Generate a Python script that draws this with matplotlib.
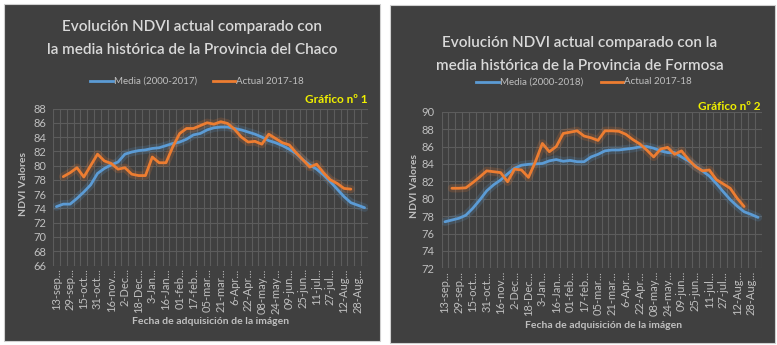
import numpy as np
import matplotlib
matplotlib.use("Agg")
import matplotlib.pyplot as plt
from matplotlib.patches import Rectangle

plt.rcParams['font.family'] = ['Lato', 'DejaVu Sans']

# ---------------- data ----------------
tick_labels = ["13-sep...", "29-sep...", "15-oct...", "31-oct...", "16-nov...", "2-Dec...",
               "18-Dec...", "3-Jan...", "16-Jan...", "01-feb...", "17-feb...", "05-mar...",
               "21-mar...", "6-Apr...", "22-Apr...", "08-may...", "24-may...", "09-jun...",
               "25-jun...", "11-jul...", "27-jul...", "12-Aug...", "28-Aug..."]
n_points = 46

chaco_media = [74.25, 74.6, 74.6, 75.4, 76.3, 77.3, 78.9, 79.6, 80.1, 80.5, 81.6, 81.9,
               82.1, 82.2, 82.4, 82.5, 82.8, 83.1, 83.3, 83.7, 84.3, 84.5, 85.0, 85.3,
               85.4, 85.4, 85.2, 85.0, 84.7, 84.4, 84.0, 83.5, 83.2, 82.8, 82.3, 81.7,
               80.8, 80.1, 79.5, 78.7, 77.75, 76.7, 75.65, 74.8, 74.45, 74.1]
chaco_actual = [np.nan, 78.45, 79.0, 79.7, 78.4, 80.0, 81.6, 80.65, 80.3, 79.5, 79.7, 78.8,
                78.6, 78.6, 81.2, 80.4, 80.4, 82.65, 84.5, 85.2, 85.2, 85.6, 86.0, 85.8,
                86.15, 85.9, 85.1, 84.0, 83.3, 83.4, 83.0, 84.4, 83.8, 83.2, 82.9, 81.8,
                80.8, 79.8, 80.2, 79.0, 78.0, 77.5, 76.8, 76.7, np.nan, np.nan]

formosa_media = [77.35, 77.55, 77.75, 78.1, 78.9, 79.85, 80.9, 81.6, 82.15, 82.85, 83.5, 83.85,
                 83.95, 84.0, 84.05, 84.35, 84.5, 84.3, 84.4, 84.25, 84.25, 84.8, 85.1, 85.5,
                 85.6, 85.6, 85.7, 85.8, 85.95, 86.0, 85.8, 85.5, 85.3, 85.3, 84.8, 84.35,
                 83.75, 83.2, 82.6, 81.75, 80.8, 79.9, 79.15, 78.5, 78.2, 77.85]
formosa_actual = [np.nan, 81.2, 81.2, 81.25, 81.85, 82.5, 83.2, 83.1, 83.0, 81.95, 83.4, 83.3,
                  82.45, 84.25, 86.35, 85.4, 86.0, 87.5, 87.65, 87.8, 87.2, 87.0, 86.7, 87.8,
                  87.8, 87.75, 87.4, 86.8, 86.3, 85.6, 84.8, 85.7, 85.9, 85.1, 85.5, 84.5,
                  83.7, 83.2, 83.3, 82.2, 81.7, 81.2, 80.05, 79.1, np.nan, np.nan]

panels = [
    dict(title="Evolución NDVI actual comparado con\nla media histórica de la Provincia del Chaco",
         media_label="Media (2000-2017)", actual_label="Actual 2017-18",
         badge="Gráfico nº 1", media=chaco_media, actual=chaco_actual, ylim=(66, 88)),
    dict(title="Evolución NDVI actual comparado con la\nmedia histórica de la Provincia de Formosa",
         media_label="Media (2000-2018)", actual_label="Actual 2017-18",
         badge="Gráfico nº 2", media=formosa_media, actual=formosa_actual, ylim=(72, 90)),
]

# ---------------- layout ----------------
W, H = 777, 345
fig = plt.figure(figsize=(W / 100, H / 100), dpi=100, facecolor="white")

def fx(px):
    return px / W

def fy(py):
    return 1 - py / H

BG = "#404040"
TXT = "#d9d9d9"
TICK = "#bfbfbf"
GRID = "#5c5c5c"
BLUE = "#5b9bd5"
ORANGE = "#ed7d31"

frames = [(4, 4, 380, 341), (390, 5, 775, 343)]
axes_px = [(53, 108.5, 368, 265.5), (441.5, 111.7, 761.5, 268.3)]
title_y = [(27, 50), (43, 66)]
title_x = [192, 580]
legend_y = [81, 82]
legend_x = [(90, 213), (476, 601)]
badge_pos = [(368, 100), (761, 106)]
ylabel_pos = [(24, 184), (414, 186)]
xlabel_pos = [(211, 321), (604, 325)]

x = np.arange(n_points)
tick_pos = np.arange(0, n_points, 2)

for k, p in enumerate(panels):
    x0, y0, x1, y1 = frames[k]
    fig.add_artist(Rectangle((fx(x0), fy(y1)), fx(x1 - x0), (y1 - y0) / H,
                             transform=fig.transFigure, facecolor=BG,
                             edgecolor="#d0d0d0", linewidth=0.8, zorder=0))
    ax0, ay0, ax1, ay1 = axes_px[k]
    ax = fig.add_axes([fx(ax0), fy(ay1), fx(ax1 - ax0), (ay1 - ay0) / H])
    ax.set_facecolor("none")
    for s in ax.spines.values():
        s.set_visible(False)

    # glow + line
    for data, col in ((p["media"], BLUE), (p["actual"], ORANGE)):
        ax.plot(x, data, color=col, lw=6, alpha=0.18, solid_capstyle="round", zorder=3)
        ax.plot(x, data, color=col, lw=2.0, solid_capstyle="round", zorder=4)

    ax.set_xlim(-0.5, n_points - 0.5)
    ax.set_ylim(*p["ylim"])
    ax.set_yticks(np.arange(p["ylim"][0], p["ylim"][1] + 0.1, 2))
    ax.set_xticks(tick_pos)
    ax.set_xticklabels(tick_labels, rotation=90, fontsize=8, color=TICK)
    ax.set_xticks(np.arange(-0.5, n_points, 1), minor=True)
    ax.tick_params(axis="y", labelsize=8, colors=TICK, length=0, pad=5)
    ax.tick_params(axis="x", which="both", length=0, pad=2)
    ax.grid(axis="y", which="major", color=GRID, lw=0.8)
    ax.grid(axis="x", which="minor", color=GRID, lw=0.8)
    ax.grid(axis="x", which="major", visible=False)
    ax.set_axisbelow(True)

    # titles
    l1, l2 = p["title"].split("\n")
    fig.text(fx(title_x[k]), fy(title_y[k][0]), l1, ha="center", va="center",
             fontsize=11, fontweight="semibold", color=TXT)
    fig.text(fx(title_x[k]), fy(title_y[k][1]), l2, ha="center", va="center",
             fontsize=11, fontweight="semibold", color=TXT)

    # legend
    lx_b, lx_o = legend_x[k]
    ly = fy(legend_y[k])
    fig.add_artist(plt.Line2D([fx(lx_b), fx(lx_b + 23)], [ly, ly], color=BLUE, lw=2,
                              transform=fig.transFigure))
    fig.text(fx(lx_b + 24), ly, p["media_label"], ha="left", va="center",
             fontsize=7, color=TICK)
    fig.add_artist(plt.Line2D([fx(lx_o), fx(lx_o + 22)], [ly, ly], color=ORANGE, lw=2,
                              transform=fig.transFigure))
    fig.text(fx(lx_o + 23), ly, p["actual_label"], ha="left", va="center",
             fontsize=7, color=TICK)

    # badge
    bx, by = badge_pos[k]
    fig.text(fx(bx), fy(by), p["badge"], ha="right", va="center", fontsize=8.5,
             fontweight="bold", color="#f0f000")

    # axis labels
    yx, yy = ylabel_pos[k]
    fig.text(fx(yx), fy(yy), "NDVI Valores", rotation=90, ha="center", va="center",
             fontsize=7.5, fontweight="bold", color=TICK)
    xx, xy = xlabel_pos[k]
    fig.text(fx(xx), fy(xy), "Fecha de adquisición de la imágen", ha="center",
             va="center", fontsize=7.5, fontweight="bold", color=TICK)

fig.savefig("out.png", dpi=100, facecolor="white")
